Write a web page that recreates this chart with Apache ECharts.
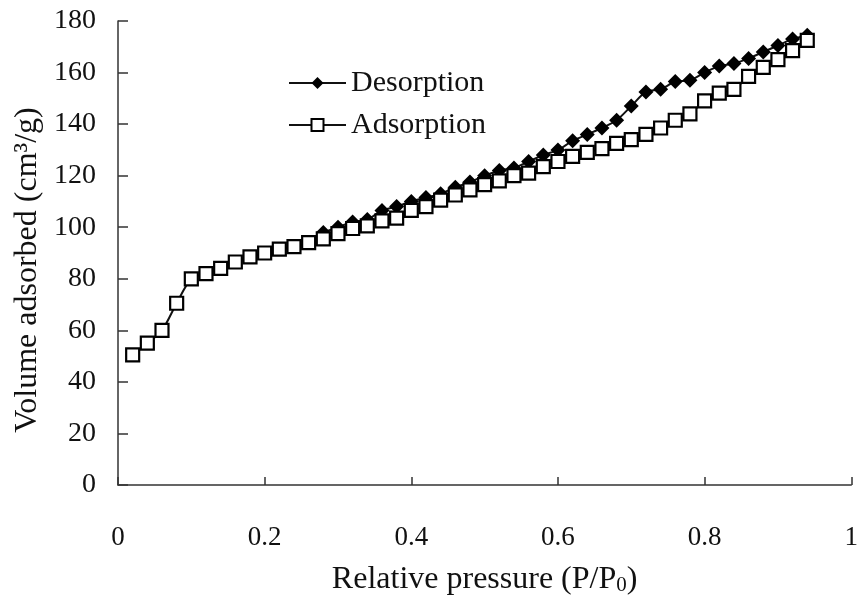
<!DOCTYPE html>
<html>
<head>
<meta charset="utf-8">
<script src="https://cdn.jsdelivr.net/npm/echarts@6/dist/echarts.min.js"></script>
<style>html,body{margin:0;padding:0;background:#fff}#c{width:861px;height:601px}</style>
</head>
<body>
<div id="c"></div>
<script>
var pressureAds = [0.02,0.04,0.06,0.08,0.10,0.12,0.14,0.16,0.18,0.20,0.22,0.24,0.26,0.28,0.30,0.32,0.34,0.36,0.38,0.40,0.42,0.44,0.46,0.48,0.50,0.52,0.54,0.56,0.58,0.60,0.62,0.64,0.66,0.68,0.70,0.72,0.74,0.76,0.78,0.80,0.82,0.84,0.86,0.88,0.90,0.92,0.94];
var adsorption = [50.5,55,60,70.5,80,82,84,86.5,88.5,90,91.5,92.5,94,95.5,97.5,99.5,100.5,102.5,103.5,106.5,108,110.5,112.5,114.5,116.5,118,120,121,123.5,125.5,127.5,129,130.5,132.5,134,136,138.5,141.5,144,149,152,153.5,158.5,162,165,168.5,172.5];
var pressureDes = [0.28,0.30,0.32,0.34,0.36,0.38,0.40,0.42,0.44,0.46,0.48,0.50,0.52,0.54,0.56,0.58,0.60,0.62,0.64,0.66,0.68,0.70,0.72,0.74,0.76,0.78,0.80,0.82,0.84,0.86,0.88,0.90,0.92,0.94];
var desorption = [98,100,102,103,106.5,108,110,111.5,113,115.5,117.5,120,122,123,125.5,128,130,133.5,136,138.5,141.5,147,152.5,153.5,156.5,157,160,162.5,163.5,165.5,168,170.5,173,174.5];
var seriesNames = ['Desorption','Adsorption'];
var xTitle = '{a|Relative pressure (P/P}{s|0}{a|)}';
var yTitle = 'Volume adsorbed (cm\u00B3/g)';

function pairs(xs, ys){ return xs.map(function(x,i){ return [x, ys[i]]; }); }

var font = 'Liberation Serif';
var chart = echarts.init(document.getElementById('c'));
chart.setOption({
  animation: false,
  backgroundColor: '#fff',
  grid: {left: 118, right: 6, top: 21, bottom: 111, containLabel: false},
  legend: {
    orient: 'vertical', left: 283, top: 63,
    itemWidth: 57, itemHeight: 15, itemGap: 12,
    textStyle: {fontFamily: font, fontSize: 30, lineHeight: 30, color: '#111'},
    data: seriesNames
  },
  xAxis: {
    type: 'value', min: 0, max: 1, interval: 0.2,
    name: xTitle, nameLocation: 'middle', nameGap: 78,
    nameTextStyle: {rich: {a: {fontFamily: font, fontSize: 32, color: '#111'}, s: {fontFamily: font, fontSize: 21, color: '#111', padding: [12,0,0,0]}}},
    axisLine: {lineStyle: {color: '#333', width: 1.5}},
    axisTick: {inside: true, length: 8, lineStyle: {color: '#333', width: 1.5}},
    axisLabel: {fontFamily: font, fontSize: 27, color: '#111', margin: 39},
    splitLine: {show: false}
  },
  yAxis: {
    type: 'value', min: 0, max: 180, interval: 20,
    name: yTitle, nameLocation: 'middle', nameGap: 70,
    nameTextStyle: {fontFamily: font, fontSize: 32, color: '#111', padding: [0, 34, 0, 0]},
    axisLine: {lineStyle: {color: '#333', width: 1.5}},
    axisTick: {inside: true, length: 10, lineStyle: {color: '#333', width: 1.5}},
    axisLabel: {fontFamily: font, fontSize: 28, color: '#111', margin: 22, padding: [8, 0, 0, 0]},
    splitLine: {show: false}
  },
  series: [
    {
      name: seriesNames[0], type: 'line', smooth: 0.3,
      data: pairs(pressureDes, desorption),
      symbol: 'diamond', symbolSize: 15,
      lineStyle: {color: '#111', width: 2},
      itemStyle: {color: '#000', borderColor: '#000', borderWidth: 0},
      z: 3
    },
    {
      name: seriesNames[1], type: 'line', smooth: 0.3,
      data: pairs(pressureAds, adsorption),
      symbol: 'rect', symbolSize: 13,
      lineStyle: {color: '#111', width: 2},
      itemStyle: {color: '#fff', borderColor: '#000', borderWidth: 2.2},
      z: 4
    }
  ]
});
</script>
</body>
</html>
